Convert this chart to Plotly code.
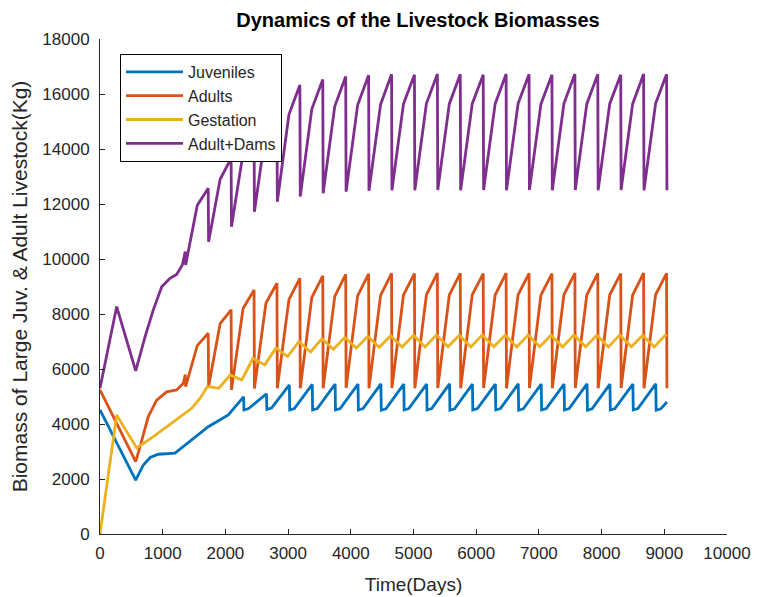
import plotly.graph_objects as go

# ---- data (days, kg) ----
# day of each annual peak just before the herd sell-off
peak_days = [1360, 1726, 2091, 2457, 2822, 3188, 3553, 3919, 4284, 4650, 5015,
             5381, 5746, 6112, 6477, 6843, 7208, 7574, 7939, 8305, 8670, 9036]
end_day = 9042

# Juveniles
juv_start_days = [0, 569, 691, 800, 930, 1196, 1462, 1727, 2046]
juv_start_kg = [4510, 1960, 2510, 2780, 2900, 2940, 3420, 3900, 4330]
juv_peak_days = [2290, 2655, 3020, 3385, 3750, 4115, 4480, 4845, 5210, 5575,
                 5940, 6306, 6671, 7037, 7402, 7768, 8133, 8499, 8864]
juv_peak_kg = [4990, 5100, 5420, 5440, 5450, 5450, 5460, 5450, 5450, 5460,
               5450, 5450, 5460, 5450, 5450, 5460, 5450, 5450, 5460]
juv_drop_kg = [4510, 4530, 4510, 4510, 4510, 4510, 4500, 4510, 4510, 4500,
               4510, 4510, 4500, 4510, 4510, 4500, 4510, 4510, 4500]
juv_low_kg = [4560, 4580, 4560, 4560, 4560, 4560, 4550, 4560, 4560, 4550,
              4560, 4560, 4550, 4560, 4560, 4550, 4560, 4560, 4550]
juv_end_kg = 4800

# Adults
adult_start_days = [0, 569, 638, 770, 904, 1063, 1223, 1329]
adult_start_kg = [5240, 2630, 3170, 4270, 4870, 5170, 5240, 5480]
adult_peak_kg = [5800, 7300, 8150, 8870, 9120, 9300, 9390, 9440, 9460, 9480, 9470,
                 9490, 9480, 9470, 9490, 9480, 9470, 9490, 9480, 9470, 9490, 9480]
adult_drop_kg = [5360, 5360, 5240, 5290, 5300, 5300, 5300, 5310, 5300, 5310, 5300,
                 5310, 5300, 5310, 5300, 5310, 5300, 5310, 5300, 5310, 5300, 5300]
adult_knee_kg = [6850, 7650, 8200, 8400, 8520, 8600, 8640, 8660, 8680, 8690,
                 8700, 8690, 8700, 8690, 8700, 8690, 8700, 8690, 8700, 8690, 8700]

# Gestation
gest_start_days = [0, 266, 585, 850, 1143, 1360, 1462, 1600]
gest_start_kg = [0, 4330, 3130, 3540, 4030, 4420, 4570, 4950]
gest_peak_kg = [5360, 5780, 6390, 6760, 7000, 7100, 7150, 7190, 7210, 7230, 7240,
                7230, 7240, 7230, 7240, 7230, 7240, 7230, 7240, 7230, 7240]
gest_trough_kg = [5300, 5600, 6150, 6450, 6620, 6720, 6760, 6790, 6800, 6800,
                  6810, 6800, 6810, 6800, 6810, 6800, 6810, 6800, 6810, 6800]
gest_end_kg = 7220

# Adult + Dams
dams_start_days = [0, 266, 569, 718, 850, 984, 1116, 1223, 1313]
dams_start_kg = [5300, 8270, 5930, 7170, 8150, 8990, 9300, 9440, 9780]
dams_peak_kg = [10270, 12570, 13660, 14700, 15700, 16330, 16530, 16640, 16680, 16720, 16700,
                16730, 16720, 16700, 16730, 16720, 16700, 16730, 16720, 16700, 16730, 16720]
dams_drop_kg = [9780, 10630, 11170, 11720, 12080, 12270, 12390, 12450, 12480, 12500, 12500,
                12510, 12500, 12510, 12500, 12510, 12500, 12510, 12500, 12510, 12500, 12500]
dams_knee_kg = [11950, 12900, 13850, 14700, 15250, 15450, 15550, 15600, 15620, 15640,
                15650, 15640, 15650, 15640, 15650, 15640, 15650, 15640, 15650, 15640, 15650]

KNEE_LEAD = 175   # days before a peak where the growth slows
DROP_LAG = 6      # sell-off happens within a few days


def sawtooth(start_days, start_kg, peaks, drops, knees):
    xs, ys = list(start_days), list(start_kg)
    for k, day in enumerate(peak_days):
        if k > 0:
            xs.append(day - KNEE_LEAD)
            ys.append(knees[k - 1])
        xs += [day, day + DROP_LAG]
        ys += [peaks[k], drops[k]]
    return xs, ys


adult_x, adult_y = sawtooth(adult_start_days, adult_start_kg,
                            adult_peak_kg, adult_drop_kg, adult_knee_kg)
dams_x, dams_y = sawtooth(dams_start_days, dams_start_kg,
                          dams_peak_kg, dams_drop_kg, dams_knee_kg)

gest_x, gest_y = list(gest_start_days), list(gest_start_kg)
for k in range(1, len(peak_days)):
    gest_x.append(peak_days[k] - 15)
    gest_y.append(gest_peak_kg[k - 1])
    if k - 1 < len(gest_trough_kg):
        gest_x.append(peak_days[k] + 170)
        gest_y.append(gest_trough_kg[k - 1])
gest_x.append(end_day)
gest_y.append(gest_end_kg)

juv_x, juv_y = list(juv_start_days), list(juv_start_kg)
for j, day in enumerate(juv_peak_days):
    juv_x += [day, day + DROP_LAG, day + 80]
    juv_y += [juv_peak_kg[j], juv_drop_kg[j], juv_low_kg[j]]
juv_x.append(end_day)
juv_y.append(juv_end_kg)

series = [
    ("Juveniles", juv_x, juv_y, "#0072BD"),
    ("Adults", adult_x, adult_y, "#D95319"),
    ("Gestation", gest_x, gest_y, "#EDB120"),
    ("Adult+Dams", dams_x, dams_y, "#7E2F8E"),
]

FONT = "Liberation Sans, Arial, Helvetica, sans-serif"
INK = "#262626"

fig = go.Figure()
for name, xs, ys, color in series:
    fig.add_trace(go.Scatter(x=xs, y=ys, mode="lines", name=name,
                             legendgroup=name,
                             line=dict(color=color, width=2.8)))

axis_common = dict(showline=True, linecolor=INK, linewidth=1, mirror=False,
                   ticks="inside", ticklen=5, tickcolor=INK, showgrid=False,
                   zeroline=False, tickformat="d",
                   tickfont=dict(family=FONT, size=17, color=INK))

fig.update_layout(
    width=757, height=597,
    margin=dict(l=100, r=30, t=39, b=63, autoexpand=False),
    paper_bgcolor="white", plot_bgcolor="white",
    font=dict(family=FONT, color=INK),
    title=dict(text="<b>Dynamics of the Livestock Biomasses</b>",
               x=(418 - 100) / 627, xref="paper", xanchor="center",
               y=1 - 20 / 597, yanchor="middle",
               font=dict(family=FONT, size=20, color="black")),
    xaxis=dict(range=[0, 10000], tick0=0, dtick=1000, ticklabelstandoff=4,
               title=dict(text="Time(Days)", font=dict(family=FONT, size=19, color=INK),
                          standoff=15),
               **axis_common),
    yaxis=dict(range=[0, 18000], tick0=0, dtick=2000, ticklabelstandoff=6,
               title=dict(text="Biomass of Large Juv. & Adult Livestock(Kg)",
                          font=dict(family=FONT, size=21, color=INK), standoff=8),
               **axis_common),
    legend=dict(x=20 / 627, y=(534 - 54) / 495, xanchor="left", yanchor="top",
                bgcolor="white", bordercolor="black", borderwidth=1,
                font=dict(family=FONT, size=16, color=INK),
                tracegroupgap=0, itemwidth=57),
    showlegend=True,
)

fig.write_html("out.html")
